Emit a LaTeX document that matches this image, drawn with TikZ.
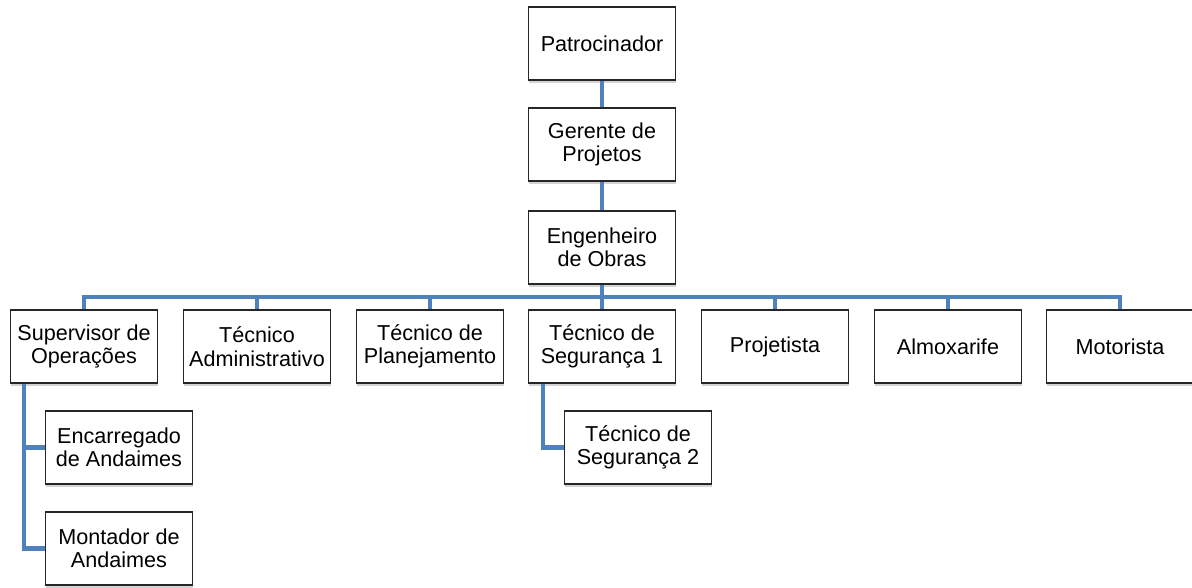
\documentclass[tikz,border=0pt]{standalone}
\usepackage{fontspec}
\setmainfont{Liberation Sans}
\usetikzlibrary{shadows}
\definecolor{linkblue}{RGB}{79,129,189}

\tikzset{every picture/.style={line width=0.75pt}}
\tikzset{
  role/.style={draw=black!85, line width=1.1pt, fill=white, minimum width=110pt, minimum height=55pt,
    inner sep=1.5pt, align=center, font=\fontsize{16.2}{17.5}\selectfont,
    drop shadow={opacity=0.35, shadow xshift=0.6pt, shadow yshift=-1.8pt}},
  link/.style={draw=linkblue, line width=3.2pt}
}

\begin{document}
\begin{tikzpicture}[x=0.75pt,y=0.75pt,yscale=-1,xscale=1]
\useasboundingbox (0,0) rectangle (1192,587);

%Top chain
\node [role] (pat) at (602,43.5) {Patrocinador};
\node [role] (ger) at (602,144.5) {Gerente de\\Projetos};
\node [role] (eng) at (602,247.5) {Engenheiro\\de Obras};

%Row under Engenheiro
\node [role] (sup) at (84,346.5) {Supervisor de\\Operações};
\node [role] (adm) at (257,346.5) {Técnico\\Administrativo};
\node [role] (pla) at (430,346.5) {Técnico de\\Planejamento};
\node [role] (seg) at (602,346.5) {Técnico de\\Segurança 1};
\node [role] (prj) at (775,346.5) {Projetista};
\node [role] (alm) at (948,346.5) {Almoxarife};
\node [role] (mot) at (1120,346.5) {Motorista};

%Sub levels
\node [role] (enc) at (119,447.5) {Encarregado\\de Andaimes};
\node [role] (mon) at (119,548.5) {Montador de\\Andaimes};
\node [role] (seg2) at (638,447.5) {Técnico de\\Segurança 2};

%Connectors
\coordinate (bus) at (602,297);
\draw [link] (pat) -- (ger);
\draw [link] (ger) -- (eng);
\draw [link] (eng.south) -- (bus);
\foreach \n in {sup,adm,pla,seg,prj,alm,mot}
  \draw [link] (bus) -| (\n.north);
\draw [link] ([xshift=10.5pt]sup.south west) |- (enc.west);
\draw [link] ([xshift=10.5pt]sup.south west) |- (mon.west);
\draw [link] ([xshift=11.25pt]seg.south west) |- (seg2.west);

\end{tikzpicture}
\end{document}
